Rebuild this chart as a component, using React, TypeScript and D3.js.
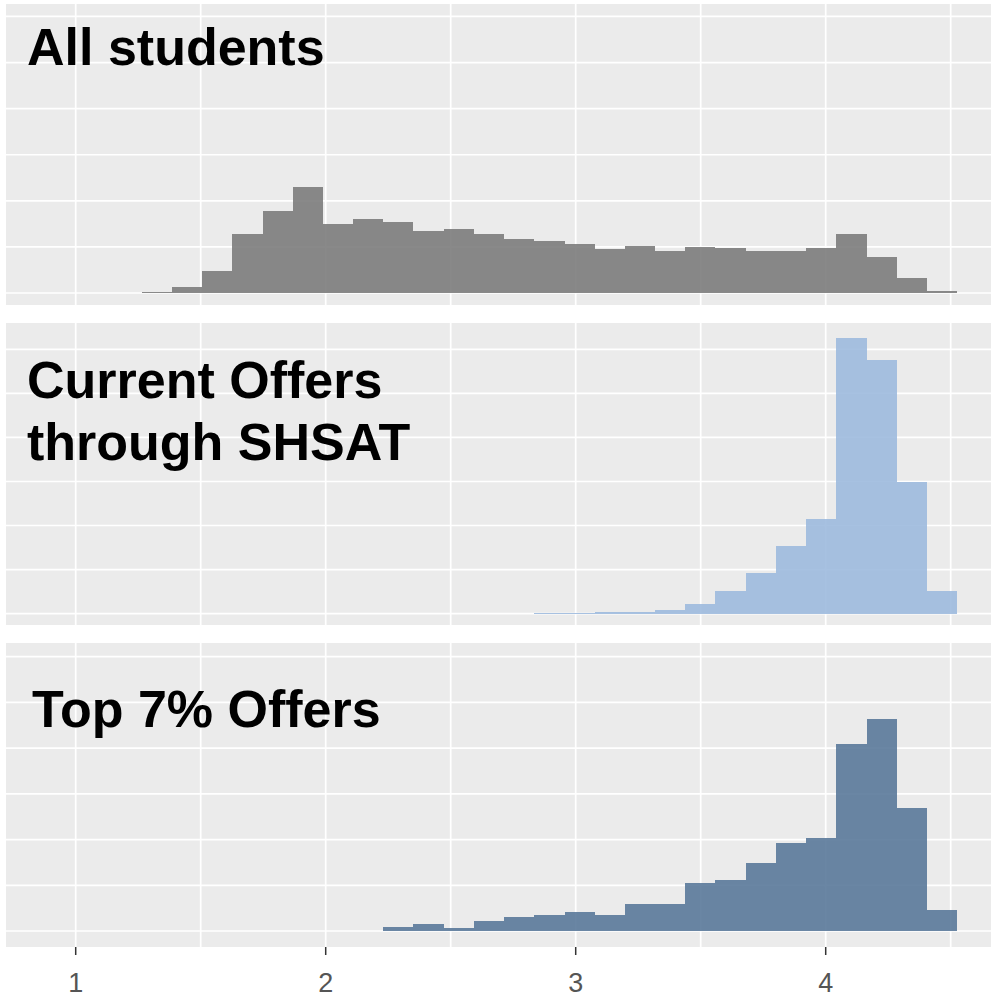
import React from 'react';
import * as d3 from 'd3';

// histogram bins shared by all three panels (GPA-like score)
const binStart = 1.264;
const binWidth = 0.1208;

// bar heights, one per bin, in y-axis units (one unit per gridline step)
const allStudents = [
  0.03, 0.14, 0.47, 1.28, 1.77, 2.31, 1.5, 1.61, 1.55, 1.34, 1.39, 1.28, 1.17, 1.12,
  1.06, 0.95, 1.01, 0.92, 1.0, 0.97, 0.92, 0.92, 0.97, 1.29, 0.79, 0.33, 0.05,
];
const currentOffers = [
  0, 0, 0, 0, 0, 0, 0, 0, 0, 0, 0, 0, 0, 0.02,
  0.02, 0.03, 0.03, 0.09, 0.21, 0.52, 0.91, 1.53, 2.14, 6.27, 5.76, 2.98, 0.52,
];
const topOffers = [
  0, 0, 0, 0, 0, 0, 0, 0, 0.09, 0.15, 0.07, 0.22, 0.31, 0.36,
  0.42, 0.36, 0.58, 0.58, 1.05, 1.11, 1.49, 1.93, 2.04, 4.09, 4.64, 2.69, 0.47,
];

const xTicks = [1, 2, 3, 4];
const xGrid = [1, 1.5, 2, 2.5, 3, 3.5, 4, 4.5];
const yGrid = [0, 1, 2, 3, 4, 5, 6];

const panels = [
  { title: ['All students'], values: allStudents, fill: '#787878', top: 4, bottom: 305, yDomain: [-0.26, 6.27], titleY: 65 },
  { title: ['Current Offers', 'through SHSAT'], values: currentOffers, fill: '#9AB8DC', top: 323, bottom: 625, yDomain: [-0.26, 6.6], titleY: 398 },
  { title: ['Top 7% Offers'], values: topOffers, fill: '#547496', top: 643, bottom: 947, yDomain: [-0.35, 6.3], titleY: 727 },
];

const width = 992;
const height = 998;
const left = 6;
const right = 991;

export default function App() {
  const x = d3.scaleLinear().domain([0.7212, 4.6612]).range([left, right]);

  return (
    <svg
      width={width}
      height={height}
      style={{ position: 'absolute', left: 0, top: 0, background: '#fff' }}
      fontFamily="'Liberation Sans', Arial, sans-serif"
    >
      {panels.map((p, pi) => {
        const y = d3.scaleLinear().domain(p.yDomain).range([p.bottom, p.top]);
        const clipId = `clip${pi}`;
        return (
          <g key={pi}>
            <defs>
              <clipPath id={clipId}>
                <rect x={left} y={p.top} width={right - left} height={p.bottom - p.top} />
              </clipPath>
            </defs>
            <rect x={left} y={p.top} width={right - left} height={p.bottom - p.top} fill="#EBEBEB" />
            <g clipPath={`url(#${clipId})`}>
              {yGrid.map((v) => (
                <line key={'h' + v} x1={left} x2={right} y1={y(v)} y2={y(v)} stroke="#fff" strokeWidth={1.7} />
              ))}
              {xGrid.map((v) => (
                <line key={'v' + v} x1={x(v)} x2={x(v)} y1={p.top} y2={p.bottom} stroke="#fff" strokeWidth={1.7} />
              ))}
              {p.values.map((v, i) =>
                v > 0 ? (
                  <rect
                    key={i}
                    x={Math.round(x(binStart + i * binWidth))}
                    width={Math.round(x(binStart + (i + 1) * binWidth)) - Math.round(x(binStart + i * binWidth))}
                    y={y(v)}
                    height={y(0) - y(v)}
                    fill={p.fill}
                    fillOpacity={0.87}
                    shapeRendering="crispEdges"
                  />
                ) : null
              )}
            </g>
            <text fontSize={52} fontWeight="bold" fill="#000">
              {p.title.map((t, ti) => (
                <tspan key={ti} x={pi === 2 ? 32 : 27} y={p.titleY + ti * 62}>
                  {t}
                </tspan>
              ))}
            </text>
          </g>
        );
      })}
      {xTicks.map((t) => (
        <g key={t} transform={`translate(${x(t)},947)`}>
          <line y1={0} y2={8} stroke="#333" strokeWidth={1.5} />
          <text y={45} textAnchor="middle" fontSize={27} fill="#555">
            {t}
          </text>
        </g>
      ))}
    </svg>
  );
}
